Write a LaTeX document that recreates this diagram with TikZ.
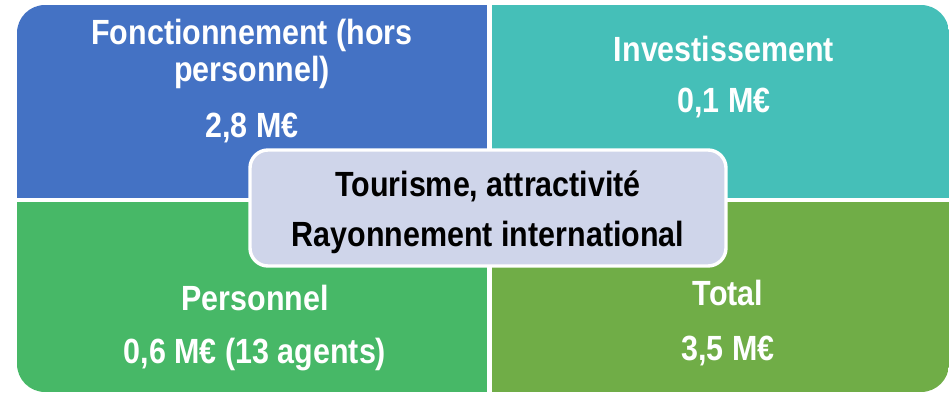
\documentclass[tikz,border=0pt]{standalone}
\usepackage{fontspec}
\newfontfamily\labelfont{Liberation Sans}[FakeStretch=0.87]
\definecolor{quadFonct}{HTML}{4472C4}
\definecolor{quadInvest}{HTML}{45BFB8}
\definecolor{quadPerso}{HTML}{47B867}
\definecolor{quadTotal}{HTML}{70AD47}
\definecolor{themeFill}{HTML}{CFD5EA}

\begin{document}
\begin{tikzpicture}[
    x=1pt, y=-1pt,
    lbl/.style={font=\labelfont\bfseries\fontsize{35}{39}\selectfont, text=white,
      anchor=base, inner sep=0pt},
    ttl/.style={lbl, text=black},
    themebox/.style={draw=white, line width=3.4pt, fill=themeFill, rounded corners=18pt,
      minimum width=476pt, minimum height=116pt, inner sep=0pt}
  ]
  \useasboundingbox (0,0) rectangle (950,393);
  % four quadrants
  \begin{scope}
    \clip[rounded corners=28pt] (17,5) rectangle (949,392);
    \fill[quadFonct] (17,5) rectangle (489.5,200);
    \fill[quadInvest] (489.5,5) rectangle (949,200);
    \fill[quadPerso] (17,200) rectangle (489.5,392);
    \fill[quadTotal] (489.5,200) rectangle (949,392);
    \draw[white, line width=4.5pt] (489.5,5) -- (489.5,392);
    \draw[white, line width=4pt] (17,200) -- (949,200);
  \end{scope}
  \node[lbl] (fonctA) at (252,45) {Fonctionnement (hors};
  \node[lbl] (fonctB) at (252,82) {personnel)};
  \node[lbl] (fonctVal) at (252,138) {2,8 M€};
  \node[lbl] (invest) at (724,62) {Investissement};
  \node[lbl] (investVal) at (724,113) {0,1 M€};
  \node[lbl] (perso) at (255,310) {Personnel};
  \node[lbl] (persoVal) at (255,363) {0,6 M€ (13 agents)};
  \node[lbl] (total) at (728,305) {Total};
  \node[lbl] (totalVal) at (728,360) {3,5 M€};
  % central theme
  \node[themebox] (theme) at (488,208) {};
  \node[ttl] (tourA) at (488,196) {Tourisme, attractivité};
  \node[ttl] (tourB) at (488,246) {Rayonnement international};
\end{tikzpicture}
\end{document}
